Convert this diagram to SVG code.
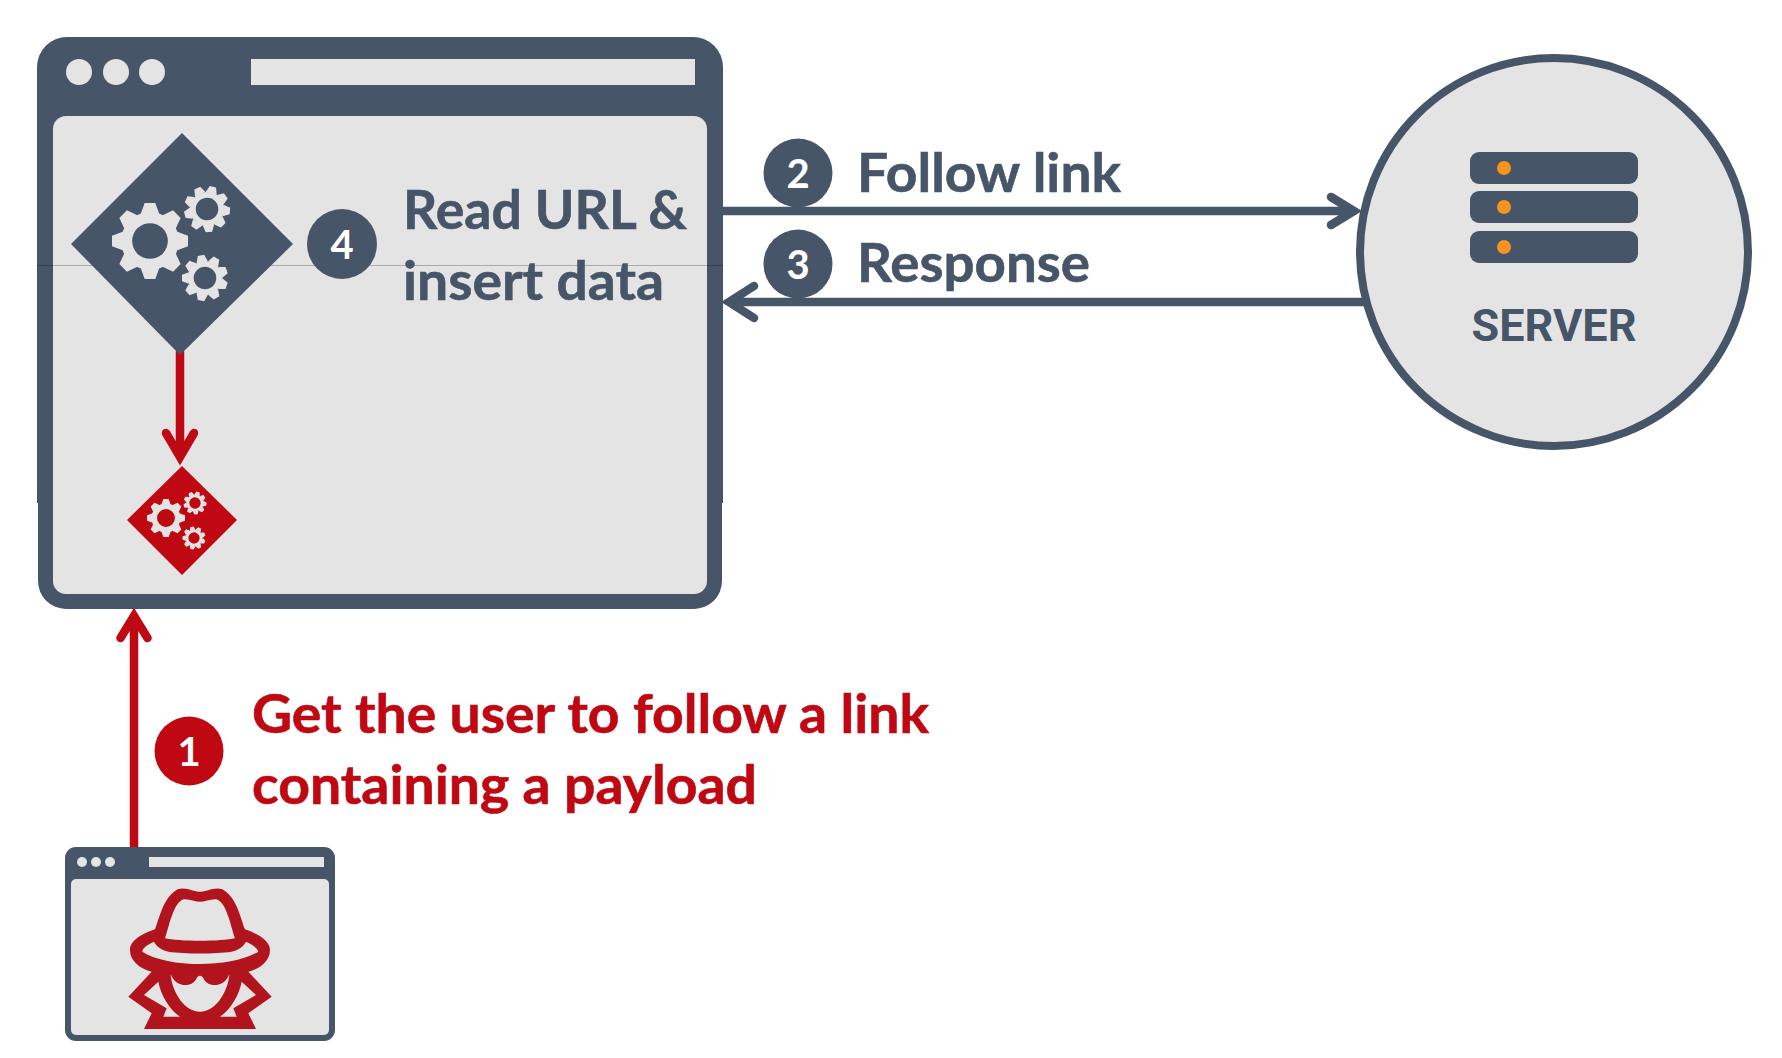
<svg xmlns="http://www.w3.org/2000/svg" xmlns:xlink="http://www.w3.org/1999/xlink" width="1782" height="1058" viewBox="0 0 1782 1058">
<style>
.slate{fill:#475568}
.light{fill:#E4E4E4}
.red{fill:#C00812}
.lbl{font-family:"Lato","Liberation Sans",sans-serif;font-weight:700;font-size:54px;stroke-width:.6px}
.slate .lbl,.lbl.slate{stroke:#475568}
.red .lbl{stroke:#C00812}
.num{font-family:"Lato","Liberation Sans",sans-serif;font-weight:700;font-size:40px;fill:#fff;text-anchor:middle}
.conn{fill:none;stroke-width:8.5;stroke-linecap:round;stroke-linejoin:miter;stroke-miterlimit:10}
.s{stroke:#475568}
.r{stroke:#C00812}
</style>
<defs>
<polygon id="t" points="-25,-70 -14,-100 14,-100 25,-70"/>
<g id="g8"><path fill-rule="evenodd" d="M-76 0a76 76 0 1 0 152 0a76 76 0 1 0-152 0ZM-47 0a47 47 0 1 1 94 0a47 47 0 1 1-94 0Z"/>
<use href="#t"/><use href="#t" transform="rotate(45)"/><use href="#t" transform="rotate(90)"/><use href="#t" transform="rotate(135)"/><use href="#t" transform="rotate(180)"/><use href="#t" transform="rotate(225)"/><use href="#t" transform="rotate(270)"/><use href="#t" transform="rotate(315)"/></g>
<g id="g9"><path fill-rule="evenodd" d="M-74 0a74 74 0 1 0 148 0a74 74 0 1 0-148 0ZM-49 0a49 49 0 1 1 98 0a49 49 0 1 1-98 0Z"/>
<use href="#t"/><use href="#t" transform="rotate(40)"/><use href="#t" transform="rotate(80)"/><use href="#t" transform="rotate(120)"/><use href="#t" transform="rotate(160)"/><use href="#t" transform="rotate(200)"/><use href="#t" transform="rotate(240)"/><use href="#t" transform="rotate(280)"/><use href="#t" transform="rotate(320)"/></g>
</defs>
<rect width="1782" height="1058" fill="#fff"/>
<g id="browser-window">
<path class="slate" d="M37 503V67a30 30 0 0 1 30-30H693a30 30 0 0 1 30 30V503Z"/>
<rect class="slate" x="38" y="470" width="684" height="139" rx="28"/>
<rect class="light" x="53" y="116" width="654" height="478" rx="13"/>
<circle class="light" cx="79" cy="72" r="13"/><circle class="light" cx="116" cy="72" r="13"/><circle class="light" cx="152" cy="72" r="13"/>
<rect class="light" x="251" y="59" width="444" height="26"/>
<line x1="37" y1="265.5" x2="723" y2="265.5" stroke="#000" stroke-opacity=".25"/>
</g>
<g id="connectors">
<path class="conn s" d="M723 211H1354M1331 197L1354 211L1331 225"/>
<path class="conn s" d="M1366 302H729M754 286L729 302L754 318"/>
<path class="conn r" d="M180 352V457M166 433L180 457L194 433"/>
<path class="conn r" d="M134 848V616M120.500 638L134 616L147.500 638"/>
</g>
<g id="script-large">
<polygon class="slate" points="182,133 293,244 180,355 71,244"/>
<use href="#g8" class="light" transform="translate(150 241) scale(.38)"/>
<use href="#g9" class="light" transform="translate(207 209) rotate(15) scale(.23)"/>
<use href="#g9" class="light" transform="translate(205 278) rotate(-10) scale(.23)"/>
</g>
<g id="script-small">
<polygon class="red" points="182,466 237,520 182,575 127,520"/>
<use href="#g8" class="light" transform="translate(166 518) scale(.19)"/>
<use href="#g9" class="light" transform="translate(195 503) rotate(15) scale(.115)"/>
<use href="#g9" class="light" transform="translate(194 538) rotate(-10) scale(.115)"/>
</g>
<g id="step-4"><circle class="slate" cx="342" cy="244" r="35"/><text class="num" x="342" y="259">4</text></g>
<g id="label-4" class="slate"><text class="lbl" x="403" y="229" textLength="284" lengthAdjust="spacingAndGlyphs">Read URL &amp;</text><text class="lbl" x="403" y="300" textLength="261" lengthAdjust="spacingAndGlyphs">insert data</text></g>
<g id="step-2"><circle class="slate" cx="798" cy="173" r="34.5"/><text class="num" x="798" y="188">2</text></g>
<text id="label-2" class="lbl slate" x="857" y="192" textLength="264" lengthAdjust="spacingAndGlyphs">Follow link</text>
<g id="step-3"><circle class="slate" cx="798" cy="264" r="34.5"/><text class="num" x="798" y="279">3</text></g>
<text id="label-3" class="lbl slate" x="857" y="282" textLength="233" lengthAdjust="spacingAndGlyphs">Response</text>
<g id="server">
<circle class="light" cx="1554" cy="252" r="194" stroke="#475568" stroke-width="8"/>
<rect class="slate" x="1470" y="152" width="168" height="32" rx="9"/><rect class="slate" x="1470" y="191" width="168" height="32" rx="9"/><rect class="slate" x="1470" y="231" width="168" height="32" rx="9"/>
<circle cx="1504" cy="168" r="7" fill="#F7931E"/><circle cx="1504" cy="207" r="7" fill="#F7931E"/><circle cx="1504" cy="247" r="7" fill="#F7931E"/>
<text class="slate" x="1554" y="341" text-anchor="middle" font-family="Roboto,'Liberation Sans',sans-serif" font-weight="700" font-size="45">SERVER</text>
</g>
<g id="step-1"><circle class="red" cx="189" cy="751" r="34.5"/><text class="num" x="189" y="766">1</text></g>
<g id="label-1" class="red"><text class="lbl" x="252" y="733" textLength="677" lengthAdjust="spacingAndGlyphs">Get the user to follow a link</text><text class="lbl" x="252" y="804" textLength="505" lengthAdjust="spacingAndGlyphs">containing a payload</text></g>
<g id="attacker">
<rect class="slate" x="65" y="847" width="270" height="194" rx="11"/>
<rect class="light" x="71" y="879" width="258" height="156" rx="5"/>
<circle class="light" cx="82" cy="862" r="5"/><circle class="light" cx="96" cy="862" r="5"/><circle class="light" cx="110" cy="862" r="5"/>
<rect class="light" x="149" y="857" width="175" height="10"/>
<path transform="translate(55 840) scale(.33333)" fill="#B2141E" fill-rule="evenodd" d="M267 567L290 520L220 470L290 395C250 385 225 360 225 330C225 300 265 280 300 268C315 230 325 170 370 147C395 140 415 155 435 155C455 155 475 140 500 147C545 170 555 230 570 268C605 280 645 300 645 330C645 360 620 385 580 395L650 470L580 520L603 567Z
M330 295C345 250 355 190 385 178C400 175 420 185 435 185C450 185 470 175 485 178C515 190 525 250 540 295C500 305 370 305 330 295Z
M297 305C275 315 262 325 262 335C300 360 370 372 435 372C500 372 570 360 610 335C608 325 595 315 573 305C565 320 550 330 530 335C480 342 390 342 340 335C320 330 305 320 297 305Z
M347 402C355 425 375 437 395 435C410 435 420 425 425 415C428 405 442 405 445 415C450 425 460 435 475 435C495 437 515 425 523 402C522 440 490 515 435 515C380 515 348 440 347 402Z
M310 425C318 465 340 505 375 530L325 530L335 505L267 465Z
M560 425C552 465 530 505 495 530L545 530L535 505L603 465Z"/>
</g>
</svg>
